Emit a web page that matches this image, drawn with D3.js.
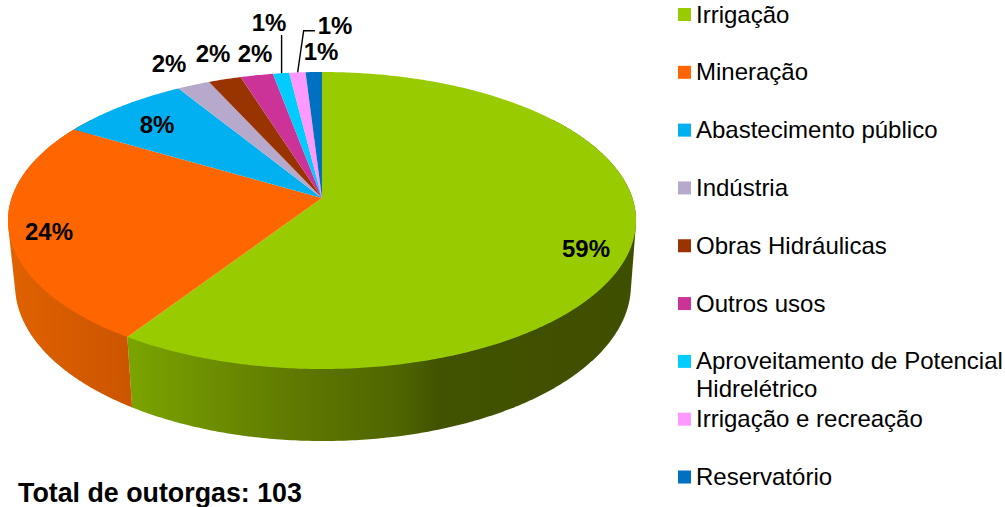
<!DOCTYPE html>
<html>
<head>
<meta charset="utf-8">
<script src="https://cdn.jsdelivr.net/npm/d3@7/dist/d3.min.js"></script>
<style>
html,body{margin:0;padding:0;background:#fff;}
svg{display:block;}
text{font-family:"Liberation Sans",Arial,sans-serif;fill:#000;}
</style>
</head>
<body>
<script>
const categories = ["Irrigação","Mineração","Abastecimento público","Indústria","Obras Hidráulicas","Outros usos","Aproveitamento de Potencial Hidrelétrico","Irrigação e recreação","Reservatório"];
const outorgas = [61,25,8,2,2,2,1,1,1];
const colors = ["#99CC00","#FF6600","#00B0F0","#B7A9CC","#993300","#CC3399","#00CCFF","#FF99FF","#0070C0"];
const totalLabel = "Total de outorgas: 103";
const legendLines = [["Irrigação"],["Mineração"],["Abastecimento público"],["Indústria"],["Obras Hidráulicas"],["Outros usos"],["Aproveitamento de Potencial","Hidrelétrico"],["Irrigação e recreação"],["Reservatório"]];
const labelPos = [[586,249],[49,232],[157,125],[169,64],[213,54],[255,54],[269,23],[335,26],[321,52]];
const sideStops = {
  0:[[130,"#7AA400"],[220,"#6C8C00"],[300,"#5E7800"],[400,"#4F6500"],[440,"#415200"],[640,"#3F4F00"]],
  1:[[10,"#E06200"],[130,"#CC5500"]]
};

const W=1005,H=507;
const svg=d3.select("body").append("svg").attr("width",W).attr("height",H);
const defs=svg.append("defs");
const total=d3.sum(outorgas);
const pct=d3.format(".0%");

const arcs=d3.pie().sort(null).value(d=>d)(outorgas);

// Perspective projection of the disc: top face and lower rim
const P=0.1515;
const topRim={cx:322,y0:198,kx:310.4,ky:145.1};
const botRim={cx:323,y0:261.4,kx:304.4,ky:152.4};
function proj(f,a){
  const x=Math.sin(a),y=-Math.cos(a),d=1-P*y;
  return [f.cx+f.kx*x/d,f.y0+f.ky*y/d];
}
const line=d3.line();
function rim(f,a0,a1){
  const n=Math.max(2,Math.ceil(Math.abs(a1-a0)/0.01));
  return d3.range(n+1).map(i=>proj(f,a0+(a1-a0)*i/n));
}

// Side wall: convex hull of both rims over each visible slice
const g=svg.append("g");
Object.keys(sideStops).forEach(k=>{
  const st=sideStops[k];
  const x0=st[0][0],x1=st[st.length-1][0];
  const gr=defs.append("linearGradient").attr("id","side"+k).attr("gradientUnits","userSpaceOnUse")
    .attr("x1",x0).attr("x2",x1).attr("y1",0).attr("y2",0);
  st.forEach(s=>gr.append("stop").attr("offset",(s[0]-x0)/(x1-x0)).attr("stop-color",s[1]));
});
const sideRanges=[[Math.PI*0.3,arcs[0].endAngle],[arcs[1].startAngle,Math.PI*1.7]];
sideRanges.forEach((r,i)=>{
  const pts=d3.polygonHull(rim(topRim,r[0],r[1]).concat(rim(botRim,r[0],r[1])));
  g.append("path").attr("d",line(pts)+"Z").attr("fill","url(#side"+i+")");
});

// Top face
arcs.forEach((d,i)=>{
  const pts=[[topRim.cx,topRim.y0]].concat(rim(topRim,d.startAngle,d.endAngle));
  g.append("path").attr("d",line(pts)+"Z").attr("fill",colors[i]);
});

// Leader lines: each starts on the rim of its own slice
const midAngle=d=>(d.startAngle+d.endAngle)/2;
const a6=proj(topRim,midAngle(arcs[6]));
const a7=proj(topRim,midAngle(arcs[7]));
const leaderStyle=s=>s.attr("fill","none").attr("stroke","#000").attr("stroke-width",1.4);
svg.append("path").attr("d",line([[a6[0]+0.6,a6[1]],[a6[0]+0.6,35]])).call(leaderStyle);
svg.append("path").attr("d",line([[a7[0]+0.3,a7[1]],[a7[0]+6.3,30.7],[a7[0]+17.6,30.7]])).call(leaderStyle);

// Value labels
arcs.forEach((d,i)=>{
  svg.append("text").attr("x",labelPos[i][0]).attr("y",labelPos[i][1]+8)
    .attr("text-anchor","middle").attr("font-weight","bold").attr("font-size",24)
    .text(pct(d.value/total));
});

// Legend
const legendY=d3.scalePoint().domain(categories).range([14.5,477]);
categories.forEach((c,i)=>{
  const y=legendY(c);
  svg.append("rect").attr("x",678).attr("y",y-6.5).attr("width",13).attr("height",13).attr("fill",colors[i]);
  legendLines[i].forEach((t,j)=>{
    svg.append("text").attr("x",696).attr("y",y+8+j*28).attr("font-size",24).text(t);
  });
});

svg.append("text").attr("x",18).attr("y",502).attr("font-weight","bold").attr("font-size",26.8).text(totalLabel);
</script>
</body>
</html>
